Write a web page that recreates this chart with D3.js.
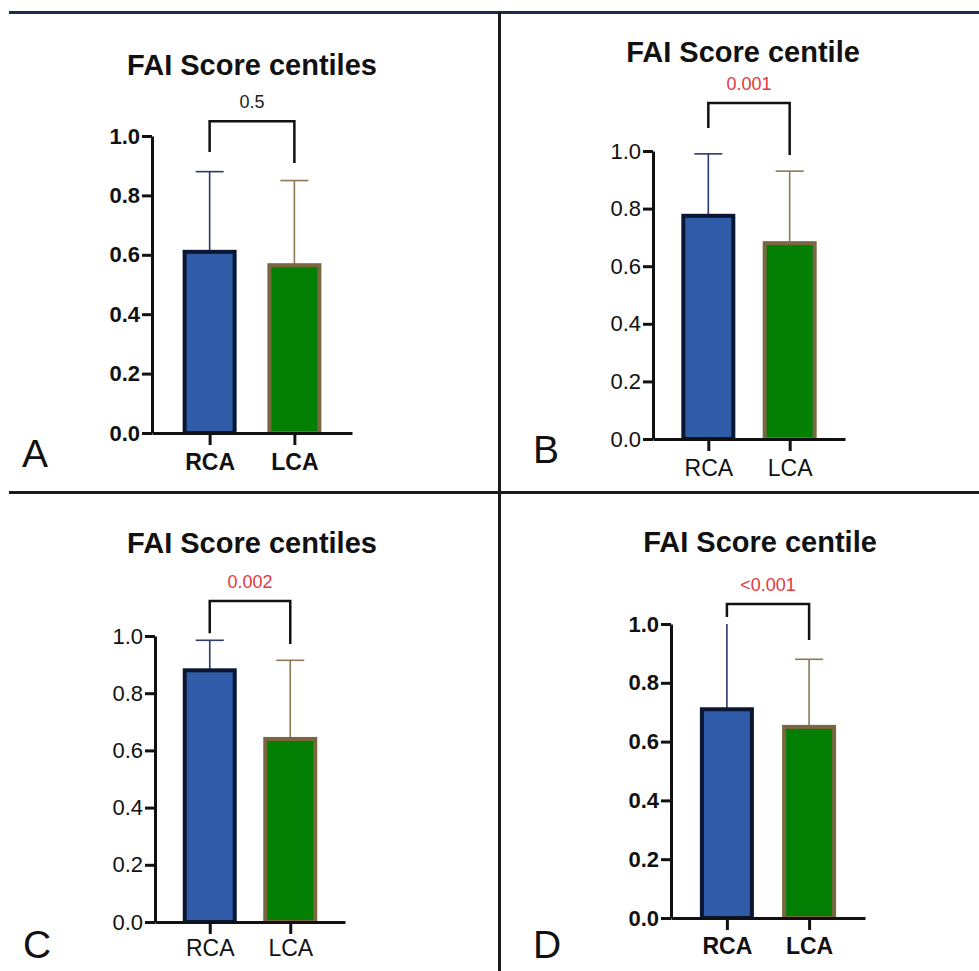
<!DOCTYPE html>
<html>
<head>
<meta charset="utf-8">
<script src="https://cdn.jsdelivr.net/npm/d3@7"></script>
<style>
  html, body { margin: 0; padding: 0; background: #fff; }
  svg { display: block; font-family: "Liberation Sans", Arial, Helvetica, sans-serif; }
</style>
</head>
<body>
<svg id="chart" width="979" height="971"></svg>
<script>
// ---------------- DATA ----------------
const panelLetters = ["A", "B", "C", "D"];
const titles = ["FAI Score centiles", "FAI Score centile", "FAI Score centiles", "FAI Score centile"];
const pValues = ["0.5", "0.001", "0.002", "<0.001"];
const categories = ["RCA", "LCA"];
const meanRCA = [0.61, 0.775, 0.88, 0.71];
const meanLCA = [0.565, 0.68, 0.64, 0.65];
const upperRCA = [0.88, 0.99, 0.985, 1.03];
const upperLCA = [0.85, 0.93, 0.915, 0.88];
const yTicks = [0.0, 0.2, 0.4, 0.6, 0.8, 1.0];
// bracket levels (data units): top, left leg end, right leg end
const bracketTop = [1.05, 1.167, 1.122, 1.068];
const bracketLeft = [0.946, 1.08, 1.01, 1.024];
const bracketRight = [0.909, 0.986, 0.972, 0.946];

// ---------------- LAYOUT ----------------
const layout = [
  { x0: 152, x1: 352, yTop: 136, yBot: 433, bold: true,  tx: 252, ty: 75,  lx: 22,  ly: 467, pad: 9 },
  { x0: 653, x1: 845, yTop: 151, yBot: 439, bold: false, tx: 743, ty: 62,  lx: 533, ly: 463, pad: 9 },
  { x0: 155, x1: 345, yTop: 636, yBot: 922, bold: false, tx: 252, ty: 553, lx: 23,  ly: 958, pad: 6 },
  { x0: 671, x1: 865, yTop: 624, yBot: 918, bold: true,  tx: 760, ty: 552, lx: 533, ly: 958, pad: 8 }
];

const colors = {
  rcaFill: "#2f5ba8", rcaStroke: "#0b1633", rcaErr: "#2b3a66",
  lcaFill: "#037f03", lcaStroke: "#7a6640", lcaErr: "#8c7a55",
  red: "#e2383e"
};

const svg = d3.select("#chart");

// frame lines
svg.append("line").attr("x1", 9).attr("x2", 979).attr("y1", 12.5).attr("y2", 12.5)
  .attr("stroke", "#1c2b4a").attr("stroke-width", 3);
svg.append("line").attr("x1", 9).attr("x2", 979).attr("y1", 492.5).attr("y2", 492.5)
  .attr("stroke", "#1a1a1a").attr("stroke-width", 3);
svg.append("line").attr("x1", 499.5).attr("x2", 499.5).attr("y1", 12).attr("y2", 971)
  .attr("stroke", "#1a1a1a").attr("stroke-width", 3);

function drawPanel(i) {
  const L = layout[i];
  const g = svg.append("g");
  const y = d3.scaleLinear().domain([0, 1]).range([L.yBot, L.yTop]);
  const x = d3.scalePoint().domain(categories).range([L.x0, L.x1]).padding(0.68);
  const fw = L.bold ? "bold" : "normal";

  // title
  g.append("text").attr("x", L.tx).attr("y", L.ty).attr("text-anchor", "middle")
    .attr("font-size", 29).attr("font-weight", "bold").attr("fill", "#111").text(titles[i]);

  // panel letter
  g.append("text").attr("x", L.lx).attr("y", L.ly).attr("font-size", 39)
    .attr("fill", "#111").text(panelLetters[i]);

  const means = [meanRCA[i], meanLCA[i]];
  const uppers = [upperRCA[i], upperLCA[i]];
  const fills = [colors.rcaFill, colors.lcaFill];
  const strokes = [colors.rcaStroke, colors.lcaStroke];
  const errs = [colors.rcaErr, colors.lcaErr];
  const barW = 50;

  // error bars (drawn first so bar covers lower part)
  categories.forEach((c, k) => {
    const cx = x(c);
    const top = Math.min(uppers[k], 1.0);
    g.append("line").attr("x1", cx).attr("x2", cx).attr("y1", y(means[k])).attr("y2", y(top))
      .attr("stroke", errs[k]).attr("stroke-width", 1.6);
    if (uppers[k] <= 1.0) {
      g.append("line").attr("x1", cx - 14).attr("x2", cx + 14).attr("y1", y(top)).attr("y2", y(top))
        .attr("stroke", errs[k]).attr("stroke-width", 1.6);
    }
  });

  // bars
  categories.forEach((c, k) => {
    g.append("rect").attr("x", x(c) - barW / 2).attr("width", barW)
      .attr("y", y(means[k])).attr("height", y(0) - y(means[k]))
      .attr("fill", fills[k]).attr("stroke", strokes[k]).attr("stroke-width", 4);
  });

  // y axis
  const ya = g.append("g").attr("transform", `translate(${L.x0},0)`)
    .call(d3.axisLeft(y).tickValues(yTicks).tickSize(10).tickSizeOuter(0).tickPadding(2)
      .tickFormat(d3.format(".1f")));
  ya.selectAll("path, line").attr("stroke", "#111").attr("stroke-width", 3);
  ya.selectAll("text").attr("font-size", 22).attr("font-weight", fw)
    .attr("fill", "#111").attr("font-family", "'Liberation Sans', Arial, sans-serif");

  // x axis
  const xa = g.append("g").attr("transform", `translate(0,${L.yBot})`)
    .call(d3.axisBottom(x).tickSize(12).tickSizeOuter(0).tickPadding(L.pad));
  xa.selectAll("path, line").attr("stroke", "#111").attr("stroke-width", 3);
  xa.selectAll("text").attr("font-size", 23).attr("font-weight", fw)
    .attr("fill", "#111").attr("font-family", "'Liberation Sans', Arial, sans-serif");

  // significance bracket
  const xl = x(categories[0]), xr = x(categories[1]);
  const path = d3.path();
  path.moveTo(xl, y(bracketLeft[i]));
  path.lineTo(xl, y(bracketTop[i]));
  path.lineTo(xr, y(bracketTop[i]));
  path.lineTo(xr, y(bracketRight[i]));
  g.append("path").attr("d", path.toString()).attr("fill", "none")
    .attr("stroke", "#111").attr("stroke-width", 2.5);

  g.append("text").attr("x", (xl + xr) / 2).attr("y", y(bracketTop[i]) - 13)
    .attr("text-anchor", "middle").attr("font-size", 18)
    .attr("fill", i === 0 ? "#222" : colors.red).text(pValues[i]);
}

for (let i = 0; i < 4; i++) drawPanel(i);
</script>
</body>
</html>
